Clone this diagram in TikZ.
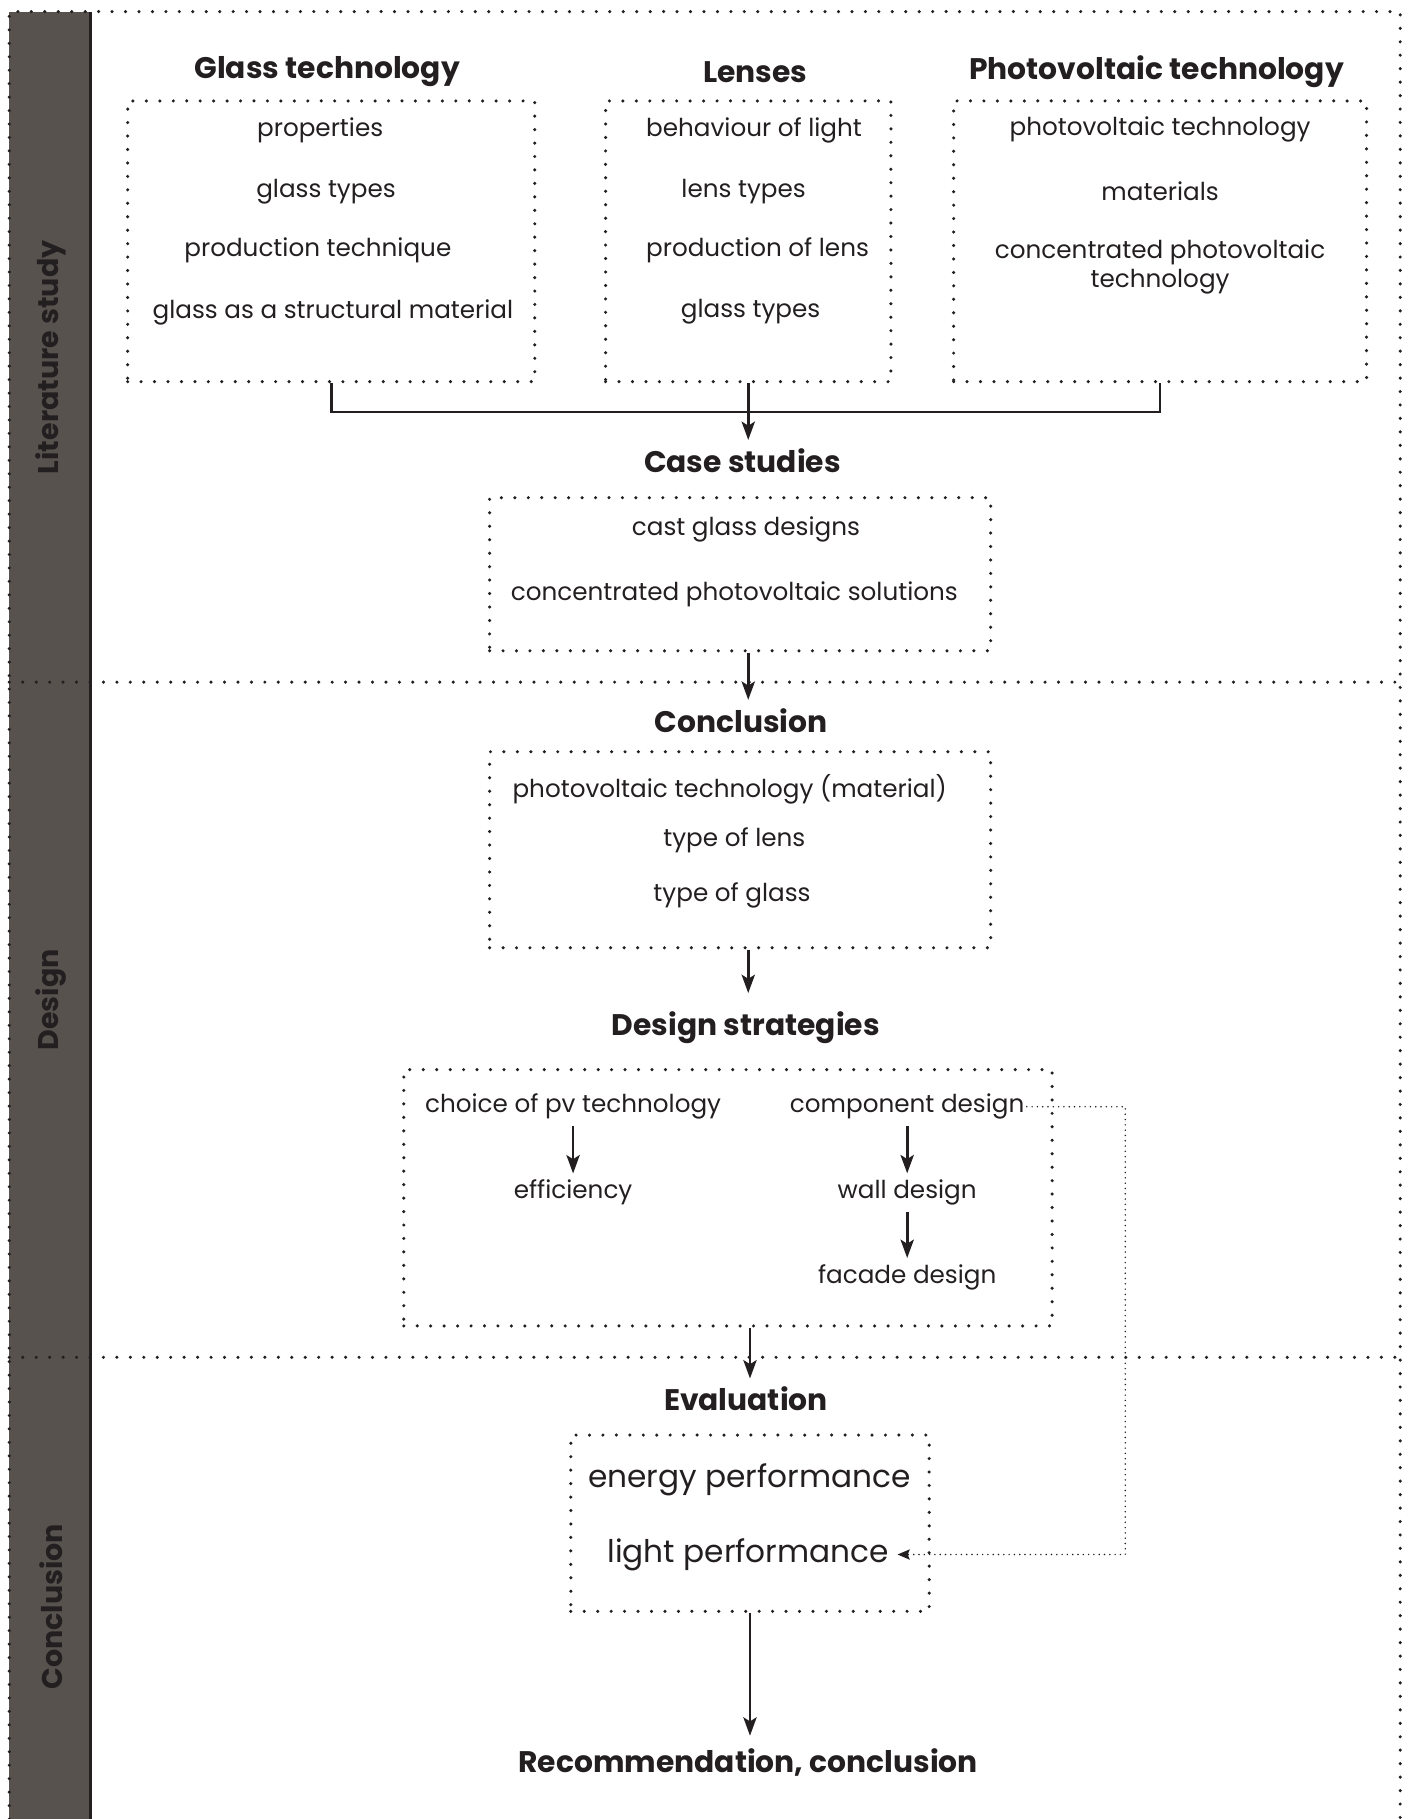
\documentclass[tikz,border=0pt]{standalone}
\usepackage{fontspec}
\setmainfont{Poppins}
\usepackage{xcolor}
\usetikzlibrary{positioning, arrows.meta, calc}

\definecolor{stripgrey}{HTML}{58524E}
\definecolor{inkblack}{HTML}{231F20}

\begin{document}
\begin{tikzpicture}[
	x=0.02cm, y=-0.02cm,
	% --- Styles ---
	heading/.style={
		font=\bfseries\fontsize{14.6}{17}\selectfont, text=inkblack, inner sep=1pt
	},
	item/.style={
		font=\fontsize{12.1}{14.5}\selectfont, text=inkblack, align=center, inner sep=1pt
	},
	bigitem/.style={
		item, font=\fontsize{15.3}{18}\selectfont
	},
	% Dotted frames round the groups
	dotbox/.style={
		draw=inkblack, line width=1.7pt, dash pattern=on 0pt off 6.6pt, line cap=round, inner sep=0pt
	},
	frameline/.style={
		draw=inkblack, line width=1.7pt, dash pattern=on 0pt off 6.6pt, line cap=round
	},
	line/.style={
		draw=inkblack, line width=1.3pt, -{Stealth[length=9pt, width=6.5pt, inset=2pt]}
	},
	bracketline/.style={
		draw=inkblack, line width=1.3pt
	},
	fbline/.style={
		draw=inkblack, line width=0.8pt, dash pattern=on 0pt off 2.6pt, line cap=round,
		-{Stealth[length=6pt, width=5pt, inset=1pt]}, shorten >=3pt
	},
	striplabel/.style={
		font=\bfseries\fontsize{14}{16}\selectfont, text=inkblack, rotate=90
	}
	]
	
	\useasboundingbox (0,0) rectangle (1218,1568);
	
	% --- 1. Side strip and frame ---
	\fill [stripgrey] (8,10) rectangle (78,1568);
	\draw [inkblack, line width=1.2pt] (78,10) -- (78,1568);
	\draw [frameline] (8,1568) -- (8,10) -- (1207,10) -- (1207,1568);
	\draw [frameline] (8,588) -- (1207,588);
	\draw [frameline] (8,1170) -- (1207,1170);
	
	\node [striplabel] (litlabel) at (44,308) {Literature study};
	\node [striplabel] (deslabel) at (44,862) {Design};
	\node [striplabel] (conlabel) at (44,1385) {Conclusion};
	
	% --- 2. Literature study: three topics ---
	\node [heading] (glasshead) at (282,62) {Glass technology};
	\node [heading] (lenshead) at (651,62) {Lenses};
	\node [heading] (pvhead) at (997,62) {Photovoltaic technology};
	
	\node [dotbox, minimum width=7.02cm, minimum height=4.84cm] (glassbox) at (285.5,208) {};
	\node [dotbox, minimum width=4.92cm, minimum height=4.84cm] (lensbox) at (645,208) {};
	\node [dotbox, minimum width=7.12cm, minimum height=4.84cm] (pvbox) at (1000,208) {};
	
	\node [item] (glass1) at (276,112) {properties};
	\node [item] (glass2) at (281,165) {glass types};
	\node [item] (glass3) at (274,216) {production technique};
	\node [item] (glass4) at (287,269) {glass as a structural material};
	
	\node [item] (lens1) at (650,112) {behaviour of light};
	\node [item] (lens2) at (641,165) {lens types};
	\node [item] (lens3) at (653,216) {production of lens};
	\node [item] (lens4) at (647,269) {glass types};
	
	\node [item] (pv1) at (1000,112) {photovoltaic technology};
	\node [item] (pv2) at (1000,165) {materials};
	\node [item] (pv3) at (1000,230) {concentrated photovoltaic\\technology};
	
	% Bracket joining the three topics
	\coordinate (bracketmid) at (645,355);
	\draw [bracketline] (glassbox.south) |- (bracketmid) -| (pvbox.south);
	
	% --- 3. Case studies ---
	\node [heading] (casehead) at (640,397) {Case studies};
	\node [dotbox, minimum width=8.64cm, minimum height=2.64cm] (casebox) at (638,495) {};
	\node [item] (case1) at (643,456) {cast glass designs};
	\node [item] (case2) at (633,512) {concentrated photovoltaic solutions};
	
	\draw [line, shorten >=3pt] (lensbox.south) -- (lensbox.south |- casehead.north);
	
	% --- 4. Design: conclusion and strategies ---
	\node [heading] (conclhead) at (639,621) {Conclusion};
	\node [dotbox, minimum width=8.64cm, minimum height=3.38cm] (conclbox) at (638,732.5) {};
	\node [item] (concl1) at (629,680) {photovoltaic technology (material)};
	\node [item] (concl2) at (633,724) {type of lens};
	\node [item] (concl3) at (631,772) {type of glass};
	
	\draw [line, shorten >=3pt] (lensbox.south |- casebox.south) -- (lensbox.south |- conclhead.north);
	
	\node [heading] (stratshead) at (643,886) {Design strategies};
	\node [dotbox, minimum width=11.18cm, minimum height=4.42cm] (designbox) at (627.5,1032.5) {};
	
	\draw [line, shorten >=8pt] (lensbox.south |- conclbox.south) -- (lensbox.south |- stratshead.north);
	
	\node [item] (choice) at (494,954) {choice of pv technology};
	\node [item] (effic) at (494,1028) {efficiency};
	\node [item] (compdes) at (782,954) {component design};
	\node [item] (walldes) at (782,1028) {wall design};
	\node [item] (facdes) at (782,1101) {facade design};
	
	\draw [line, shorten <=2pt, shorten >=2pt] (choice) -- (effic);
	\draw [line, shorten <=2pt, shorten >=2pt] (compdes) -- (walldes);
	\draw [line, shorten <=2pt, shorten >=2pt] (walldes) -- (facdes);
	
	% --- 5. Conclusion: evaluation ---
	\node [heading] (evalhead) at (643,1206) {Evaluation};
	\node [dotbox, minimum width=6.18cm, minimum height=3.04cm] (evalbox) at (646.5,1313) {};
	\node [bigitem] (energyperf) at (646,1276) {energy performance};
	\node [bigitem] (lightperf) at (645,1340) {light performance};
	
	\draw [line, shorten >=3pt] (evalbox.north |- designbox.south) -- (evalbox.north |- evalhead.north);
	
	% Feedback from component design to light performance
	\coordinate (fbcorner) at (970,1340);
	\draw [fbline] (compdes.east) -| (fbcorner) |- (lightperf.east);
	
	\node [heading] (rechead) at (645,1519) {Recommendation, conclusion};
	\draw [line, shorten >=5pt] (evalbox.south) -- (evalbox.south |- rechead.north);
	
\end{tikzpicture}
\end{document}
